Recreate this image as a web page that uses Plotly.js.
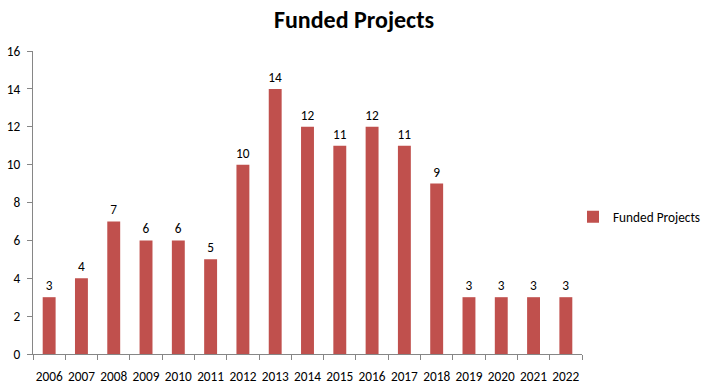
<!DOCTYPE html>
<html>
<head>
<meta charset="utf-8">
<script src="https://cdn.plot.ly/plotly-3.0.1.min.js"></script>
<style>html,body{margin:0;padding:0;background:#fff}#chart{width:708px;height:386px}</style>
</head>
<body>
<div id="chart"></div>
<script>
const years = ["2006","2007","2008","2009","2010","2011","2012","2013","2014","2015","2016","2017","2018","2019","2020","2021","2022"];
const fundedProjects = [3,4,7,6,6,5,10,14,12,11,12,11,9,3,3,3,3];
const yTicks = [0,2,4,6,8,10,12,14,16];

const fontFam = "Carlito, Calibri, 'Open Sans', 'Liberation Sans', sans-serif";
const trace = {
  type: "bar",
  x: years,
  y: fundedProjects,
  name: "Funded Projects",
  marker: {color: "#C0504D"},
  text: fundedProjects.map(String),
  textposition: "outside",
  constraintext: "none",
  cliponaxis: false,
  textfont: {family: fontFam, size: 13.3, color: "#000"}
};
const layout = {
  width: 708, height: 386,
  margin: {l: 33, r: 126, t: 51, b: 32, autoexpand: false},
  paper_bgcolor: "#fff", plot_bgcolor: "#fff",
  font: {family: fontFam, size: 13.3, color: "#000"},
  title: {text: "<b>Funded Projects</b>", font: {family: fontFam, size: 24, color: "#000"}, x: 0.5, xref: "container", xanchor: "center", y: 0.97, yref: "container", yanchor: "top"},
  bargap: 0.6,
  showlegend: true,
  legend: {x: 0.9836, xref: "paper", xanchor: "left", y: 0.452, yanchor: "middle", bgcolor: "rgba(0,0,0,0)", font: {family: fontFam, size: 13.3, color: "#000"}, itemwidth: 30},
  xaxis: {type: "category", automargin: false, tickangle: 0, showline: true, linecolor: "#868686", linewidth: 1, ticks: "outside", tickson: "boundaries", ticklen: 5, tickcolor: "#868686", showgrid: false, zeroline: false, tickfont: {family: fontFam, size: 13.3}, ticklabelstandoff: 10},
  yaxis: {automargin: false, range: [0, 16], tickvals: yTicks, ticktext: yTicks.map(String), showline: true, linecolor: "#868686", linewidth: 1, ticks: "outside", ticklen: 5, tickcolor: "#868686", showgrid: false, zeroline: false, tickfont: {family: fontFam, size: 13.3}, ticklabelstandoff: 4}
};
Plotly.newPlot("chart", [trace], layout, {displayModeBar: false});
</script>
</body>
</html>
